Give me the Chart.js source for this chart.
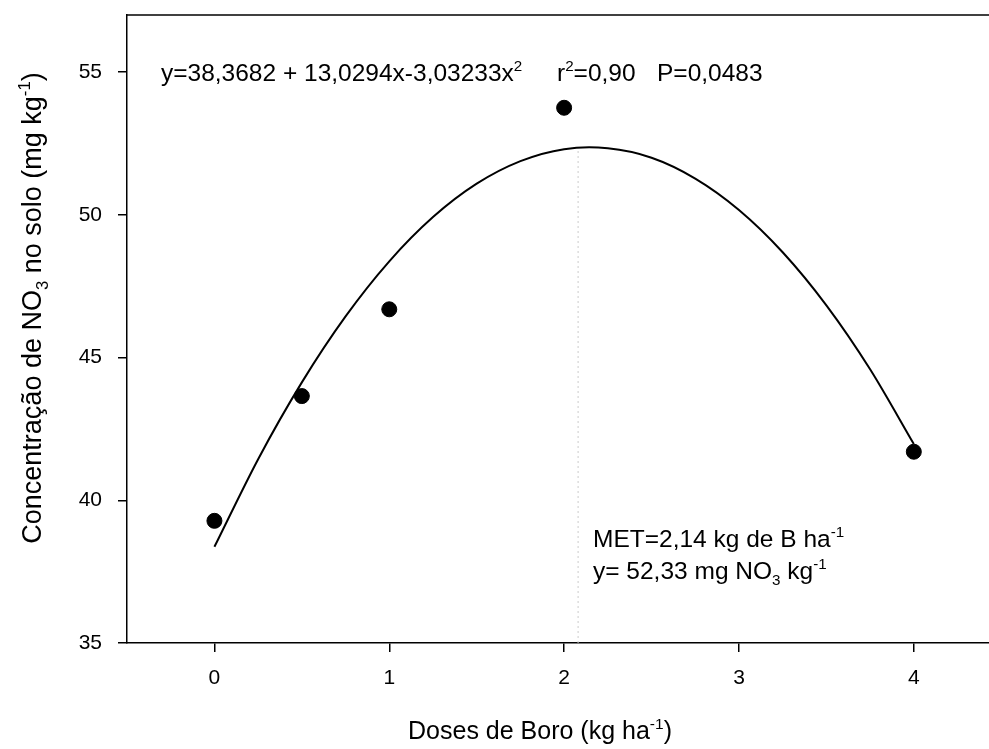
<!DOCTYPE html>
<html lang="pt">
<head>
  <meta charset="UTF-8" />
  <title>Doses de Boro - NO3 no solo</title>
  <script src="https://cdn.jsdelivr.net/npm/chart.js"></script>
  <style>
    body { margin: 0; background: #fff; }
    canvas { display: block; }
  </style>
</head>
<body>
  <canvas id="grafico" width="989" height="749"></canvas>

  <script>
    // dados observados
    const doses = [0, 0.5, 1, 2, 4];
    const no3 = [39.28, 43.65, 46.69, 53.75, 41.70];

    // curva ajustada
    const curvaX = [0, 0.25, 0.5, 0.75, 1, 1.25, 1.5, 1.75, 2, 2.25, 2.5, 2.75, 3, 3.25, 3.5, 3.75, 4];
    const curvaY = [38.37, 41.44, 44.13, 46.44, 48.37, 49.92, 51.09, 51.88, 52.30, 52.33, 52.00, 51.27, 50.17, 48.69, 46.83, 44.59, 41.97];

    // linha pontilhada do MET
    const metX = [2.08, 2.08];
    const metY = [35, 52.33];

    const xTicks = [0, 1, 2, 3, 4];
    const yTicks = [35, 40, 45, 50, 55];

    const fonte = "Arial, 'Liberation Sans', sans-serif";

    // desenha texto com sub/sobrescrito: partes = [[texto, 'n'|'sup'|'sub'], ...]
    function textoRico(ctx, x, y, partes, tam) {
      let cx = x;
      partes.forEach(p => {
        let t = tam, dy = 0;
        if (p[1] === 'sup') { t = tam * 0.62; dy = -tam * 0.42; }
        if (p[1] === 'sub') { t = tam * 0.62; dy = tam * 0.25; }
        ctx.font = t + "px " + fonte;
        ctx.fillText(p[0], cx, y + dy);
        cx += ctx.measureText(p[0]).width;
      });
      return cx - x;
    }

    function larguraRica(ctx, partes, tam) {
      let w = 0;
      partes.forEach(p => {
        const t = p[1] === 'n' ? tam : tam * 0.62;
        ctx.font = t + "px " + fonte;
        w += ctx.measureText(p[0]).width;
      });
      return w;
    }

    const textos = {
      id: 'textos',
      afterDraw(chart) {
        const ctx = chart.ctx;
        const area = chart.chartArea;
        ctx.save();
        ctx.fillStyle = '#000';
        ctx.textBaseline = 'alphabetic';
        ctx.textAlign = 'left';

        // linha de cima
        ctx.strokeStyle = '#000';
        ctx.lineWidth = 1.5;
        ctx.beginPath();
        ctx.moveTo(area.left, area.top);
        ctx.lineTo(area.right, area.top);
        ctx.stroke();

        // equacao
        textoRico(ctx, 161, 81, [['y=38,3682 + 13,0294x-3,03233x', 'n'], ['2', 'sup']], 24.5);
        textoRico(ctx, 557, 81, [['r', 'n'], ['2', 'sup'], ['=0,90', 'n']], 24.5);
        textoRico(ctx, 657, 81, [['P=0,0483', 'n']], 24.5);

        // MET
        textoRico(ctx, 593, 547, [['MET=2,14 kg de B ha', 'n'], ['-1', 'sup']], 24.5);
        textoRico(ctx, 593, 579, [['y= 52,33 mg NO', 'n'], ['3', 'sub'], [' kg', 'n'], ['-1', 'sup']], 24.5);

        // titulo eixo x
        const tx = [['Doses de Boro (kg ha', 'n'], ['-1', 'sup'], [')', 'n']];
        const wx = larguraRica(ctx, tx, 25);
        textoRico(ctx, 540 - wx / 2, 739, tx, 25);

        // titulo eixo y
        const ty = [['Concentração de NO', 'n'], ['3', 'sub'], [' no solo (mg kg', 'n'], ['-1', 'sup'], [')', 'n']];
        const wy = larguraRica(ctx, ty, 27);
        ctx.translate(41, 308);
        ctx.rotate(-Math.PI / 2);
        textoRico(ctx, -wy / 2, 0, ty, 27);
        ctx.restore();
      }
    };

    const ctx = document.getElementById('grafico').getContext('2d');
    new Chart(ctx, {
      type: 'scatter',
      data: {
        datasets: [
          {
            label: 'MET',
            data: metX.map((x, i) => ({ x: x, y: metY[i] })),
            showLine: true,
            borderColor: '#cccccc',
            borderWidth: 1,
            borderDash: [2, 3],
            pointRadius: 0
          },
          {
            label: 'Ajuste',
            data: curvaX.map((x, i) => ({ x: x, y: curvaY[i] })),
            showLine: true,
            borderColor: '#000',
            borderWidth: 2,
            tension: 0.3,
            pointRadius: 0
          },
          {
            label: 'NO3',
            data: doses.map((x, i) => ({ x: x, y: no3[i] })),
            showLine: false,
            backgroundColor: '#000',
            borderColor: '#000',
            pointRadius: 7.5,
            pointHoverRadius: 7.5
          }
        ]
      },
      options: {
        responsive: false,
        animation: false,
        layout: { autoPadding: false, padding: { top: 15, right: 0, left: 0, bottom: 0 } },
        plugins: {
          legend: { display: false },
          tooltip: { enabled: false }
        },
        scales: {
          x: {
            type: 'linear',
            min: -0.5,
            max: 4.43,
            afterBuildTicks: s => { s.ticks = xTicks.map(v => ({ value: v })); },
            afterFit: s => { s.height = 106; s.paddingLeft = 0; s.paddingRight = 0; },
            grid: { drawOnChartArea: false, drawTicks: true, tickLength: 9, color: '#000', lineWidth: 1.5 },
            border: { display: true, color: '#000', width: 1.5 },
            ticks: { color: '#000', padding: 14, font: { family: fonte, size: 21 }, maxRotation: 0 }
          },
          y: {
            type: 'linear',
            min: 35,
            max: 57,
            afterBuildTicks: s => { s.ticks = yTicks.map(v => ({ value: v })); },
            afterFit: s => { s.width = 127; s.paddingTop = 0; s.paddingBottom = 0; },
            grid: { drawOnChartArea: false, drawTicks: true, tickLength: 9, color: '#000', lineWidth: 1.5 },
            border: { display: true, color: '#000', width: 1.5 },
            ticks: { color: '#000', padding: 16, font: { family: fonte, size: 21 } }
          }
        }
      },
      plugins: [textos]
    });
  </script>
</body>
</html>
